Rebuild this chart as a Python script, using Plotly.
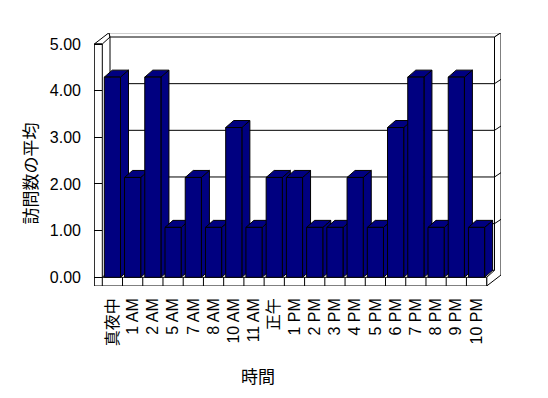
import plotly.graph_objects as go

# ---------------- data ----------------
categories = ['真夜中', '1 AM', '2 AM', '5 AM', '7 AM', '8 AM', '10 AM', '11 AM', '正午',
              '1 PM', '2 PM', '3 PM', '4 PM', '5 PM', '6 PM', '7 PM', '8 PM', '9 PM', '10 PM']
values = [4.29, 2.14, 4.29, 1.07, 2.14, 1.07, 3.21, 1.07, 2.14,
          2.14, 1.07, 1.07, 2.14, 1.07, 3.21, 4.29, 1.07, 4.29, 1.07]
y_ticks = [0, 1, 2, 3, 4, 5]
y_tick_labels = ['0.00', '1.00', '2.00', '3.00', '4.00', '5.00']
x_title = '時間'
y_title = '訪問数の平均'

# ---------------- layout geometry (window pixels) ----------------
WIN_W, WIN_H = 548, 398
BODY = 8                                # default page margin around the figure
W, H = WIN_W - 2 * BODY, WIN_H - 2 * BODY
L, R, T, B = 94, 501, 33, 286          # plot area edges (window px)
X0PX, PXU = 112.4, 20.23               # centre of first category, px per category
Y0PX, PYU = 277.3, 46.66               # value 0 position, px per unit
DEPTH_PX = (8.0, 7.0)                  # 3-D depth offset in px (right, up)

def ux(px):
    return (px - X0PX) / PXU

def uy(py):
    return (Y0PX - py) / PYU

def paper_x(px):
    return (px - L) / (R - L)

def paper_y(py):
    return (B - py) / (B - T)

DX = DEPTH_PX[0] / PXU
DY = DEPTH_PX[1] / PYU
BAR_W = 0.80
NAVY = '#000080'

idx = list(range(len(categories)))

fig = go.Figure()

# side faces (drawn first)
for i, v in zip(idx, values):
    r = i + BAR_W / 2
    fig.add_trace(go.Scatter(
        x=[r, r, r + DX, r + DX, r], y=[0, v, v + DY, DY, 0],
        mode='lines', fill='toself', fillcolor=NAVY,
        line=dict(color='black', width=1), hoverinfo='skip', showlegend=False,
        xaxis='x', yaxis='y'))
# top faces
for i, v in zip(idx, values):
    l = i - BAR_W / 2
    r = i + BAR_W / 2
    fig.add_trace(go.Scatter(
        x=[l, l + DX, r + DX, r, l], y=[v, v + DY, v + DY, v, v],
        mode='lines', fill='toself', fillcolor=NAVY,
        line=dict(color='black', width=1), hoverinfo='skip', showlegend=False,
        xaxis='x', yaxis='y'))
# front faces on overlaying axes (always on top)
fig.add_trace(go.Bar(
    x=idx, y=values, width=BAR_W,
    marker=dict(color=NAVY, line=dict(color='black', width=1)),
    hoverinfo='skip', showlegend=False, xaxis='x2', yaxis='y2'))

# ---------------- frame (walls, floor, gridlines) ----------------
FL, FI, FT, FB, FF, FR = 94.3, 102.3, 44, 286, 277.3, 486.7
BL, BT, BR, BB = 110, 37, 494.5, 270.3
OT, OR, OLX, ORB = 32.7, 501, 109, 275

def P(points):
    return 'M ' + ' L '.join(f'{ux(a):.4f},{uy(b):.4f}' for a, b in points) + ' Z'

LINE = dict(color='black', width=1)
shapes = []
def poly(points, fill='white'):
    shapes.append(dict(type='path', xref='x', yref='y', path=P(points),
                       fillcolor=fill, line=LINE, layer='below'))
def seg(x0, y0, x1, y1):
    shapes.append(dict(type='line', xref='x', yref='y', x0=ux(x0), y0=uy(y0),
                       x1=ux(x1), y1=uy(y1), line=LINE, layer='below'))

poly([(FL, FT), (OLX, OT), (BL, BT), (FI, FT)])                     # left wall top
poly([(OLX, OT), (OR, OT), (BR, BT), (BL, BT)])                     # back wall top
poly([(BR, BT), (OR, OT), (OR, ORB), (FR, FB), (FR, FF), (BR, BB)]) # right end
poly([(FL, FF), (FR, FF), (FR, FB), (FL, FB)])                      # floor front
poly([(FL, FT), (FI, FT), (FI, FB), (FL, FB)])                      # left wall front
seg(BL, BT, BL, BB)
seg(FI, FF, BL, BB)
for v in y_ticks[:-1]:
    shapes.append(dict(type='line', xref='x', yref='y', x0=ux(BL), x1=ux(BR),
                       y0=v + DY, y1=v + DY, line=LINE, layer='below'))
    if v > 0:
        shapes.append(dict(type='line', xref='x', yref='y', x0=ux(BR), x1=ux(OR),
                           y0=v + DY, y1=v + DY + 4.3 / PYU, line=LINE, layer='below'))
for k in range(1, len(categories)):
    shapes.append(dict(type='line', xref='x', yref='y', x0=k - 0.5, x1=k - 0.5,
                       y0=uy(FF), y1=uy(FB), line=LINE, layer='below'))

FONT = 'Liberation Sans, Arial, Noto Sans CJK JP, sans-serif'
xr = [ux(L), ux(R)]
yr = [uy(B), uy(T)]

fig.update_layout(
    width=W, height=H,
    margin=dict(l=L - BODY, r=W - (R - BODY), t=T - BODY, b=H - (B - BODY), pad=0),
    paper_bgcolor='white', plot_bgcolor='white',
    showlegend=False, hovermode=False,
    font=dict(family=FONT, size=16, color='black'),
    shapes=shapes,
    xaxis=dict(range=xr, tickmode='array', tickvals=idx, ticktext=categories,
               tickangle=-90, ticks='', showgrid=False, zeroline=False,
               showline=False, ticklabelstandoff=8,
               tickfont=dict(family=FONT, size=16, color='black')),
    yaxis=dict(range=yr, tickmode='array', tickvals=y_ticks, ticktext=y_tick_labels,
               ticks='inside', ticklen=8, tickcolor='black', tickwidth=1,
               showgrid=False, zeroline=False, showline=False, ticklabelstandoff=12,
               tickfont=dict(family=FONT, size=16, color='black')),
    xaxis2=dict(range=xr, overlaying='x', visible=False, anchor='y2'),
    yaxis2=dict(range=yr, overlaying='y', visible=False, anchor='x2'),
    annotations=[
        dict(text=y_title, xref='paper', yref='paper', x=paper_x(28.5), y=paper_y(174),
             textangle=-90, showarrow=False, xanchor='center', yanchor='middle',
             font=dict(family='Noto Sans CJK JP', size=17, color='black')),
        dict(text=x_title, xref='paper', yref='paper', x=paper_x(258), y=paper_y(375),
             showarrow=False, xanchor='center', yanchor='middle',
             font=dict(family='Noto Sans CJK JP', size=17, color='black')),
    ],
)

fig.write_html('out.html')
